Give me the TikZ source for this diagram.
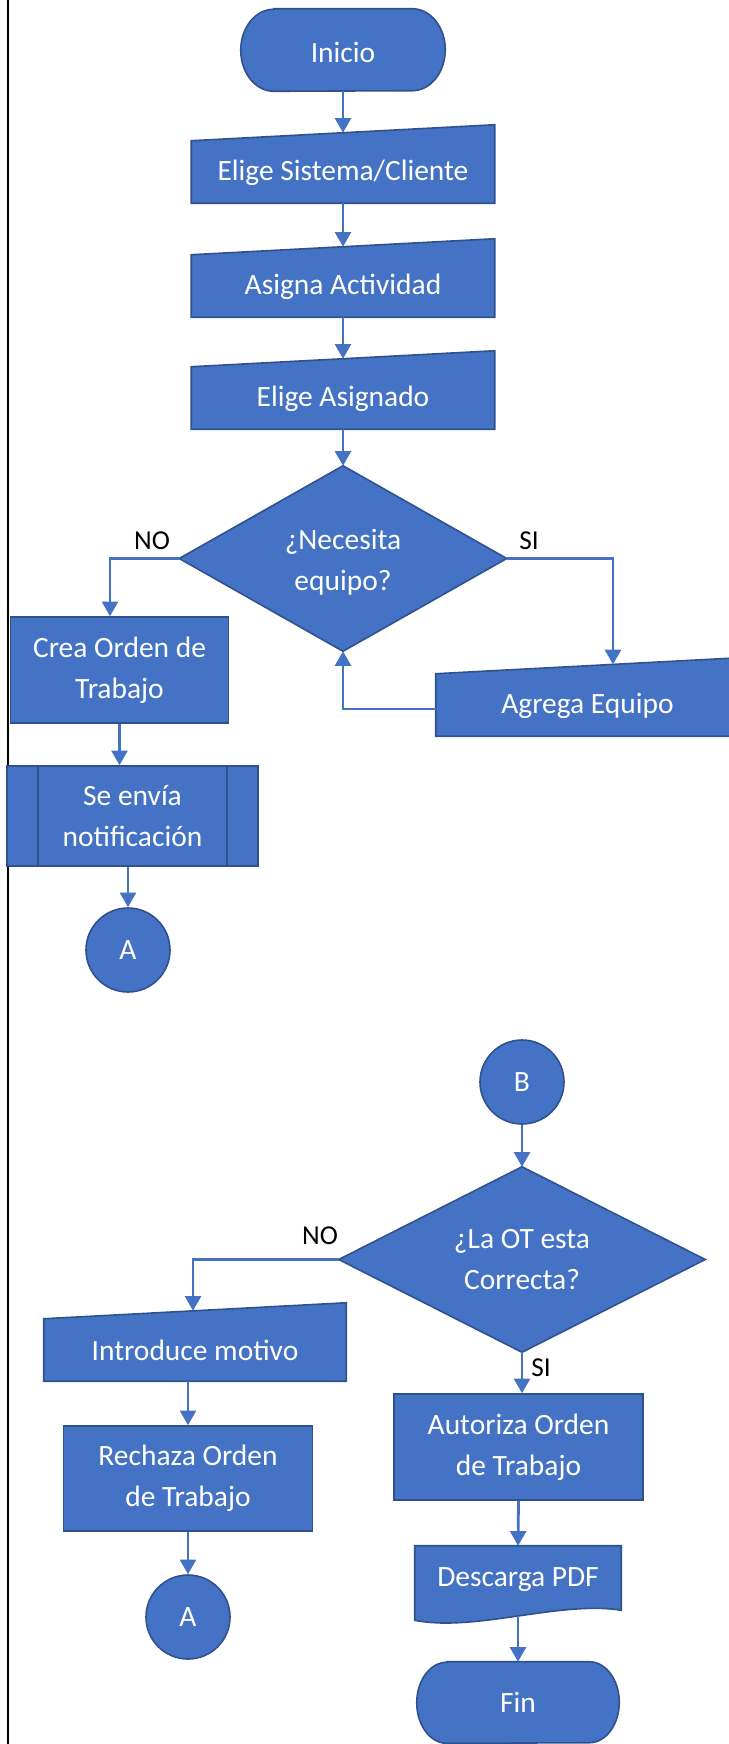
\documentclass[tikz,border=0pt]{standalone}
\usepackage{fontspec}
\setmainfont{Carlito}
\usetikzlibrary{arrows.meta,calc}
\definecolor{ofill}{HTML}{4472C4}
\definecolor{oborder}{HTML}{2F528F}
\pgfdeclarelayer{bg}
\pgfsetlayers{bg,main}
\newcommand\maninput[1]{\begin{pgfonlayer}{bg}\path[shp] ([yshift=-6pt]#1.north west) -- ([yshift=6pt]#1.north east) -- (#1.south east) -- (#1.south west) -- cycle;\end{pgfonlayer}}
\newcommand\termshape[3]{\begin{pgfonlayer}{bg}\path[shp] ([xshift=#2]#1.north west) -- ([xshift=-#2]#1.north east) arc[start angle=90,end angle=-90,x radius=#2,y radius=#3] -- ([xshift=#2]#1.south west) arc[start angle=270,end angle=90,x radius=#2,y radius=#3] -- cycle;\end{pgfonlayer}}
\newcommand\diamshape[1]{\begin{pgfonlayer}{bg}\path[shp] (#1.north) -- (#1.east) -- (#1.south) -- (#1.west) -- cycle;\end{pgfonlayer}}
\newcommand\lowered[2]{\raisebox{-#1}[\height][\depth]{#2}}
\begin{document}
\begin{tikzpicture}[x=0.75pt,y=-0.75pt,
  txt/.style={font=\fontsize{22.1}{30.5}\selectfont, text=white, align=center, inner sep=0pt},
  ghost/.style={txt},
  box/.style={txt, draw=oborder, fill=ofill, line width=1.2pt},
  conn/.style={draw=ofill, line width=2.1pt, -{Triangle[width=12pt,length=11pt]}},
  shp/.style={draw=oborder, fill=ofill, line width=1.2pt},
  lbl/.style={font=\fontsize{20.5}{24}\selectfont, text=black, inner sep=0pt},
  circ/.style={txt, circle, draw=oborder, fill=ofill, line width=1.2pt, minimum size=63pt}]
\useasboundingbox (0,0) rectangle (728,1744);
\clip (0,0) rectangle (728,1744);
\draw[line width=1.5pt, black] (8,-5) -- (8,1750);

% top part
\node[ghost, minimum width=153pt, minimum height=61.5pt] (inicio) at (343,50) {\lowered{1.5pt}{Inicio}};
\termshape{inicio}{24.75pt}{30.75pt}
\node[ghost, minimum width=227.25pt, minimum height=52.5pt] (esc) at (343,168) {\lowered{3.75pt}{Elige Sistema/Cliente}};
\maninput{esc}
\node[ghost, minimum width=227.25pt, minimum height=52.5pt] (aa) at (343,282) {\lowered{3.75pt}{Asigna Actividad}};
\maninput{aa}
\node[ghost, minimum width=227.25pt, minimum height=52.5pt] (ea) at (343,394) {\lowered{3.75pt}{Elige Asignado}};
\maninput{ea}
\node[ghost, minimum width=245.25pt, minimum height=138.75pt] (d1) at (343,562.5) {¿Necesita\\equipo?};
\coordinate (d1t) at ([yshift=3pt]d1.north);
\coordinate (d1b) at ([yshift=3pt]d1.south);
\coordinate (d1l) at ([yshift=3pt]d1.west);
\coordinate (d1r) at ([yshift=3pt]d1.east);
\begin{pgfonlayer}{bg}\path[shp] (d1t) -- (d1r) -- (d1b) -- (d1l) -- cycle;\end{pgfonlayer}
\node[ghost, minimum width=227.25pt, minimum height=52.5pt] (age) at (587.5,701) {\lowered{3.75pt}{Agrega Equipo}};
\maninput{age}
\node[box, minimum width=163.5pt, minimum height=79.5pt] (crea) at (119.5,670) {Crea Orden de\\Trabajo};
\node[box, minimum width=188.25pt, minimum height=75pt] (sen) at (132.5,816) {Se envía\\notificación};
\draw[oborder, line width=1.2pt] ([xshift=24pt]sen.north west) -- ([xshift=24pt]sen.south west)
  ([xshift=-24pt]sen.north east) -- ([xshift=-24pt]sen.south east);
\node[circ] (a1) at (128,950) {A};

\node[lbl] (no1) at (152,541) {NO};
\node[lbl] (si1) at (529,541) {SI};

\draw[conn] (inicio.south) -- (esc.north);
\draw[conn] (esc.south) -- (aa.north);
\draw[conn] (aa.south) -- (ea.north);
\draw[conn] (ea.south) -- (d1t);
\draw[conn] (d1l) -| ([xshift=-7.125pt]crea.north);
\draw[conn] (d1r) -| ([xshift=19.125pt,yshift=1pt]age.north);
\draw[conn] ([yshift=-6pt]age.west) -| (d1b);
\draw[conn] (crea.south) -- (crea.south |- sen.north);
\draw[conn] (sen.south -| a1.north) -- (a1.north);

% bottom part
\node[circ] (b) at (522,1082) {B};
\node[ghost, minimum width=274.5pt, minimum height=138.75pt] (d2) at (522,1259.5) {¿La OT esta\\Correcta?};
\diamshape{d2}
\node[ghost, minimum width=226.5pt, minimum height=52.5pt] (intro) at (195,1346) {\lowered{3pt}{Introduce motivo}};
\maninput{intro}
\node[box, minimum width=186.75pt, minimum height=78.75pt] (rech) at (188,1478.5) {Rechaza Orden\\de Trabajo};
\node[circ] (a2) at (188,1617) {A};
\node[box, minimum width=186.75pt, minimum height=79.5pt] (aut) at (518.5,1447) {Autoriza Orden\\de Trabajo};
\node[ghost, minimum width=154.5pt, minimum height=48pt] (desc) at (518,1578) {\lowered{1.5pt}{Descarga PDF}};
\begin{pgfonlayer}{bg}
\path[shp] (desc.north west) -- (desc.north east) -- (desc.south east)
  .. controls ($(desc.south east)+(-61,-10)$) and ($(desc.south west)+(60,22)$) .. ($(desc.south west)+(0,10)$) -- cycle;
\end{pgfonlayer}
\node[ghost, minimum width=151.5pt, minimum height=60.75pt] (fin) at (518,1702.5) {Fin};
\termshape{fin}{22.5pt}{30.375pt}

\node[lbl] (no2) at (320,1236) {NO};
\node[lbl] (si2) at (541,1368) {SI};

\draw[conn] (b.south) -- (d2.north);
\draw[conn] (d2.west) -| ([xshift=-1.5pt]intro.north);
\draw[conn] (intro.south -| rech.north) -- (rech.north);
\draw[conn] (rech.south) -- (a2.north);
\draw[conn] (d2.south) -- (d2.south |- aut.north);
\draw[conn] (aut.south) -- (desc.north);
\draw[conn] ([yshift=-4.5pt]desc.south) -- (fin.north);
\end{tikzpicture}
\end{document}
